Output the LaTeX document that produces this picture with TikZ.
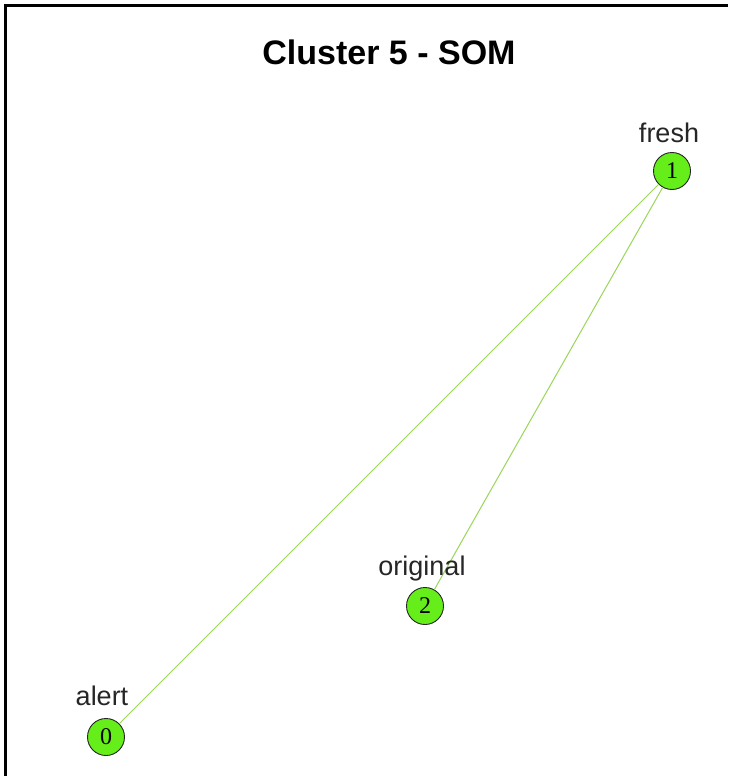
\documentclass[tikz,border=0pt]{standalone}
\usepackage{fontspec}
\setmainfont{Liberation Sans}
\newfontfamily\numfont{Liberation Serif}
\definecolor{edgegreen}{HTML}{9AD65A}
\definecolor{vertgreen}{HTML}{66EE1A}
\begin{document}
\begin{tikzpicture}[x=1pt,y=-1pt,
  vertex/.style={circle,draw=black!85,line width=0.9pt,fill=vertgreen,
    minimum size=37pt,inner sep=0pt,font=\numfont\fontsize{24}{24}\selectfont},
  vlabel/.style={font=\fontsize{27}{27}\selectfont,text=black!85,inner sep=0pt,anchor=base},
  link/.style={draw=edgegreen,line width=1pt}]
\useasboundingbox (0,0) rectangle (728,776);
\fill[white] (0,0) rectangle (728,776);
% frame (top and left sides)
\draw[line width=3pt] (5.5,776) -- (5.5,6) -- (728,6);
% title
\node[font=\bfseries\fontsize{34}{34}\selectfont,anchor=base] (title) at (389,64) {Cluster 5 - SOM};
% vertices
\node[vertex] (v1) at (672,171) {1};
\node[vertex] (v2) at (425,606) {2};
\node[vertex] (v0) at (106,737) {0};
% edges
\draw[link] (v1) -- (v0);
\draw[link] (v1) -- (v2);
% vertex labels
\node[vlabel] (l1) at (669,142) {fresh};
\node[vlabel] (l2) at (422,575) {original};
\node[vlabel] (l0) at (102,705) {alert};
\end{tikzpicture}
\end{document}
